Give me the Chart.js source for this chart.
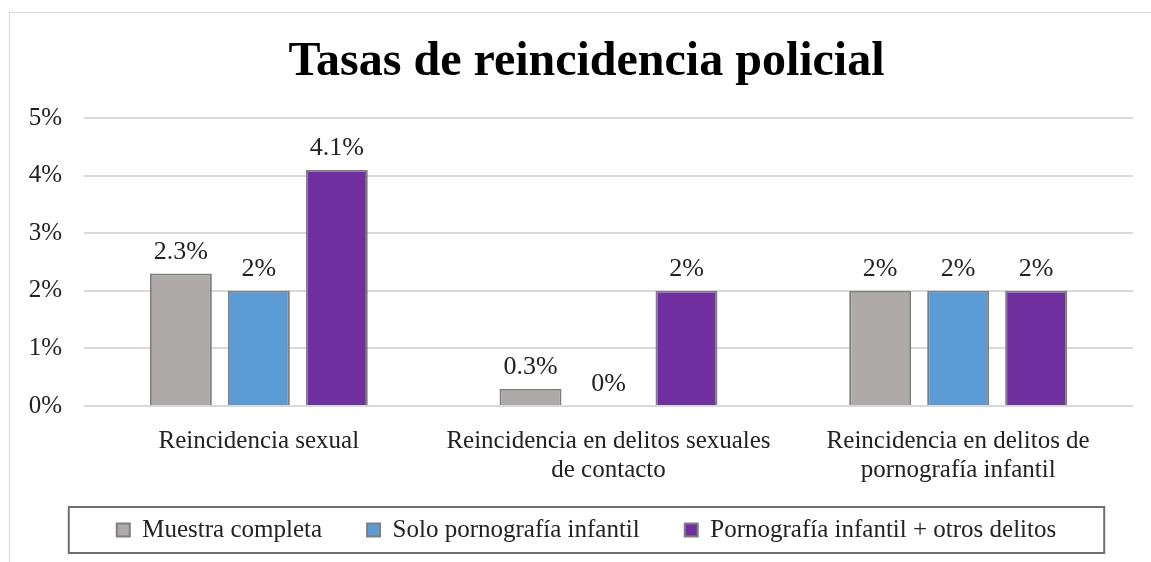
<!DOCTYPE html>
<html>
<head>
<meta charset="utf-8">
<script src="https://cdn.jsdelivr.net/npm/chart.js@4"></script>
<style>
    html, body { margin: 0; padding: 0; background: #fff; overflow: hidden; }
    body { width: 1151px; height: 562px; position: relative; }
    .frame {
        position: absolute;
        left: 9px;
        top: 12px;
        width: 1154px;
        height: 549px;
        border-left: 1px solid #d9d9d9;
        border-top: 1px solid #d9d9d9;
    }
</style>
</head>
<body>
<div class="frame"><canvas id="chart"></canvas></div>
<script>
    // Data
    const categories = [
        'Reincidencia sexual',
        ['Reincidencia en delitos sexuales', 'de contacto'],
        ['Reincidencia en delitos de', 'pornografía infantil']
    ];
    const seriesNames = ['Muestra completa', 'Solo pornografía infantil', 'Pornografía infantil + otros delitos'];
    const muestraCompleta = [2.3, 0.3, 2];
    const soloPornografia = [2, 0, 2];
    const pornografiaOtros = [4.1, 2, 2];
    const yTicks = [0, 1, 2, 3, 4, 5];

    const colors = ['#aeaaaa', '#5b9bd5', '#7030a0'];
    const FONT = "'Liberation Serif', 'DejaVu Serif', serif";

    // Value labels above each bar
    const valueLabels = {
        id: 'valueLabels',
        afterDatasetsDraw(chart) {
            const ctx = chart.ctx;
            ctx.save();
            ctx.font = '26px ' + FONT;
            ctx.fillStyle = '#222';
            ctx.textAlign = 'center';
            ctx.textBaseline = 'alphabetic';
            chart.data.datasets.forEach((ds, i) => {
                chart.getDatasetMeta(i).data.forEach((bar, j) => {
                    ctx.fillText(ds.data[j] + '%', bar.x, bar.y - 15);
                });
            });
            ctx.restore();
        }
    };

    // Let axis labels spill past their boxes instead of being clipped
    const unclipLabels = {
        id: 'unclipLabels',
        afterLayout(chart) {
            chart.scales.x.bottom = chart.height;
            chart.scales.y.left = 0;
        }
    };

    // Border around the legend
    const legendFrame = {
        id: 'legendFrame',
        afterDraw(chart) {
            const boxes = chart.legend.legendHitBoxes;
            if (!boxes || !boxes.length) return;
            const first = boxes[0];
            const last = boxes[boxes.length - 1];
            const cy = first.top + first.height / 2;
            const left = first.left - 48;
            const right = last.left + last.width + 48;
            const ctx = chart.ctx;
            ctx.save();
            ctx.strokeStyle = '#6f6f6f';
            ctx.lineWidth = 2;
            ctx.strokeRect(left, cy - 23, right - left, 46);
            ctx.restore();
        }
    };

    const ctx = document.getElementById('chart').getContext('2d');
    new Chart(ctx, {
        type: 'bar',
        data: {
            labels: categories,
            datasets: [
                { label: seriesNames[0], data: muestraCompleta, backgroundColor: colors[0] },
                { label: seriesNames[1], data: soloPornografia, backgroundColor: colors[1] },
                { label: seriesNames[2], data: pornografiaOtros, backgroundColor: colors[2] }
            ].map(d => Object.assign(d, {
                borderColor: '#7f7f7f',
                borderWidth: 2,
                categoryPercentage: 0.669,
                barPercentage: 0.795
            }))
        },
        options: {
            responsive: true,
            maintainAspectRatio: false,
            animation: false,
            layout: { padding: { left: 30, right: 31, top: 0, bottom: 9.5 } },
            plugins: {
                title: {
                    display: true,
                    text: 'Tasas de reincidencia policial',
                    color: '#000',
                    font: { family: FONT, size: 48, weight: 'bold' },
                    padding: { top: 21, bottom: 26.4 }
                },
                legend: {
                    position: 'bottom',
                    labels: {
                        color: '#222',
                        font: { family: FONT, size: 25 },
                        boxWidth: 13,
                        boxHeight: 13,
                        padding: 45
                    }
                },
                tooltip: { enabled: false }
            },
            scales: {
                x: {
                    grid: { display: false },
                    border: { display: false },
                    ticks: {
                        color: '#222',
                        font: { family: FONT, size: 25, lineHeight: 1.16 },
                        padding: 12.5,
                        maxRotation: 0
                    },
                    afterFit(scale) { scale.height = 66.5; }
                },
                y: {
                    min: 0,
                    max: 5,
                    border: { display: false },
                    grid: { color: '#d9d9d9', lineWidth: 2, drawTicks: false },
                    afterBuildTicks(scale) { scale.ticks = yTicks.map(v => ({ value: v })); },
                    ticks: {
                        color: '#222',
                        font: { family: FONT, size: 25 },
                        padding: 22,
                        callback: v => v + '%'
                    },
                    afterFit(scale) { scale.width = 44; }
                }
            }
        },
        plugins: [valueLabels, unclipLabels, legendFrame]
    });
</script>
</body>
</html>
